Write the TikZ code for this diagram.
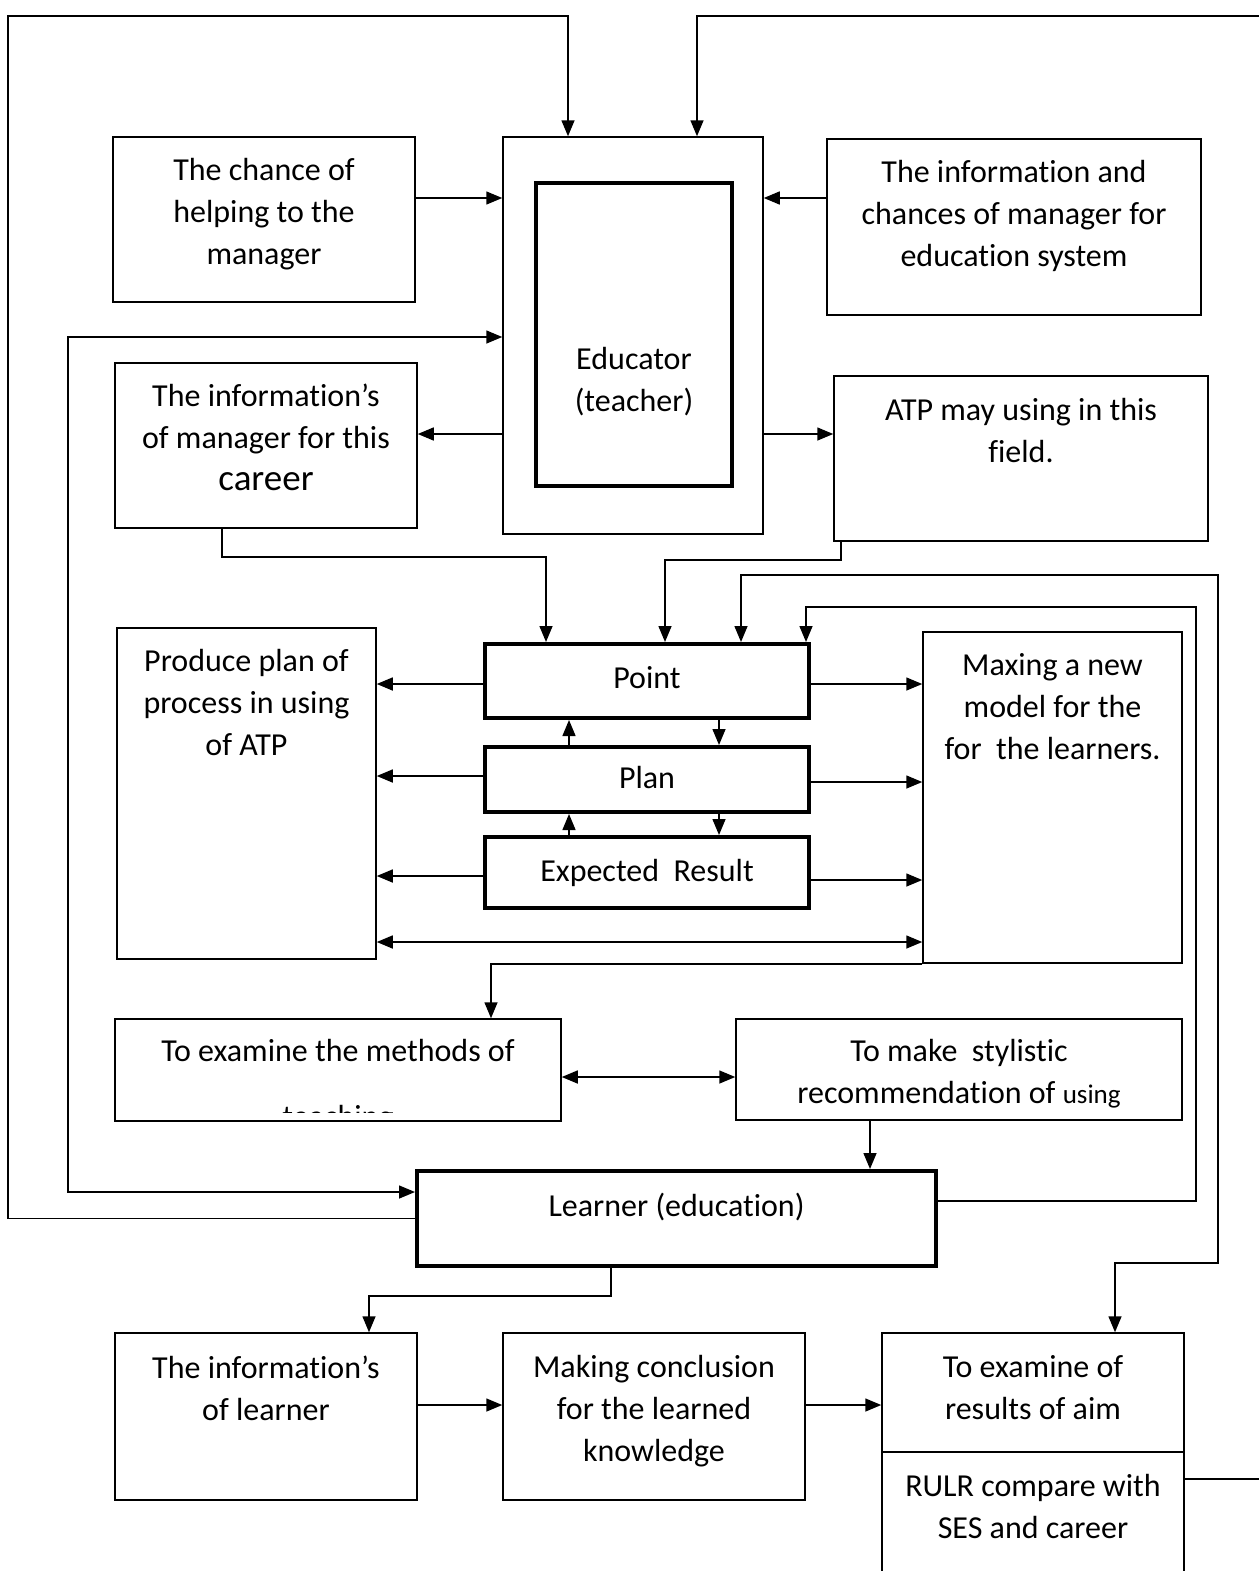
\documentclass[tikz,border=0pt]{standalone}
\usepackage{fontspec}
\setmainfont{Carlito}[RawFeature={-liga}]
\usetikzlibrary{arrows.meta}
\newcommand{\boxfont}{\fontsize{32}{42}\selectfont}
\tikzset{
    box/.style={draw, line width=1.5pt, inner sep=0pt},
    boldbox/.style={box, line width=4pt},
    lbl/.style={anchor=north, align=center, inner sep=0pt, font=\boxfont},
    arr/.style={line width=1.5pt, -{Triangle[length=16pt,width=13pt]}},
    arrboth/.style={line width=1.5pt, {Triangle[length=16pt,width=13pt]}-{Triangle[length=16pt,width=13pt]}},
}
\begin{document}
\begin{tikzpicture}[x=1pt,y=-1pt]
    \useasboundingbox (0,0) rectangle (1258,1571);
    % top row
    \node[box, minimum width=302pt, minimum height=165pt,
        label={[lbl, yshift=-22pt]north:{The chance of\\helping to the\\manager}}] (chance) at (264,219.5) {};
    \node[box, minimum width=260pt, minimum height=397pt] (edu) at (633,335.5) {};
    \node[boldbox, minimum width=196pt, minimum height=303pt,
        label={[lbl, anchor=center, yshift=-47pt]center:{Educator\\(teacher)}}] (eduin) at (634,334.5) {};
    \node[box, minimum width=374pt, minimum height=176pt,
        label={[lbl, yshift=-22pt]north:{The information and\\chances of manager for\\education system}}] (infoch) at (1014,227) {};
    \node[box, minimum width=302pt, minimum height=165pt,
        label={[lbl, yshift=-21pt]north:{The information’s\\of manager for this\\{\fontsize{37}{44}\selectfont career}}}] (career) at (266,445.5) {};
    \node[box, minimum width=374pt, minimum height=165pt,
        label={[lbl, yshift=-23pt]north:{ATP may using in this\\field.}}] (atp) at (1021,458.5) {};
    % middle block
    \node[box, minimum width=259pt, minimum height=331pt,
        label={[lbl, yshift=-22pt]north:{Produce plan of\\process in using\\of ATP}}] (produce) at (246.5,793.5) {};
    \node[boldbox, minimum width=324pt, minimum height=74pt,
        label={[lbl, yshift=-24pt]north:Point}] (point) at (647,681) {};
    \node[boldbox, minimum width=324pt, minimum height=65pt,
        label={[lbl, yshift=-21pt]north:Plan}] (plan) at (647,779.5) {};
    \node[boldbox, minimum width=324pt, minimum height=71pt,
        label={[lbl, yshift=-24pt]north:{Expected\ \ Result}}] (expected) at (647,872.5) {};
    \node[box, minimum width=259pt, minimum height=331pt,
        label={[lbl, yshift=-22pt]north:{Maxing a new\\model for the\\for\ \ the learners.}}] (maxing) at (1052.5,797.5) {};
    \node[box, minimum width=446pt, minimum height=102pt,
        label={[lbl, yshift=-21pt]north:{To examine the methods of}}] (methods) at (338,1070) {};
    \begin{scope}
        \clip (117,1021) rectangle (559,1112);
        \node[anchor=base, inner sep=0pt, font=\boxfont] (teach) at (338,1127) {teaching};
    \end{scope}
    \node[box, minimum width=446pt, minimum height=101pt,
        label={[lbl, yshift=-21pt]north:{To make\ \ stylistic\\recommendation of {\fontsize{27}{42}\selectfont using}}}] (stylistic) at (959,1069.5) {};
    \node[boldbox, minimum width=519pt, minimum height=95pt,
        label={[lbl, yshift=-24pt]north:{Learner (education)}}] (learner) at (676.5,1218.5) {};
    % bottom row
    \node[box, minimum width=302pt, minimum height=167pt,
        label={[lbl, yshift=-23pt]north:{The information’s\\of learner}}] (infol) at (266,1416.5) {};
    \node[box, minimum width=302pt, minimum height=167pt,
        label={[lbl, yshift=-23pt]north:{Making conclusion\\for the learned\\knowledge}}] (making) at (654,1416.5) {};
    \node[box, minimum width=302pt, minimum height=119pt,
        label={[lbl, yshift=-23pt]north:{To examine of\\results of aim}}] (aim) at (1033,1392.5) {};
    \node[box, minimum width=302pt, minimum height=148pt,
        label={[lbl, yshift=-23pt]north:{RULR compare with\\SES and career}}] (rulr) at (1033,1526) {};
    % connectors
    \draw[arr] (learner.west) -| (8,16) -| (edu.north -| 568,0);
    \draw[arr] (rulr.east |- 0,1479) -| (1275,16) -| (edu.north -| 697,0);
    \draw[arr] (chance.east |- 0,198) -- (edu.west |- 0,198);
    \draw[arr] (infoch.west |- 0,198) -- (edu.east |- 0,198);
    \draw[arrboth] (learner.west |- 0,1192) -| (68,337) -- (edu.west |- 0,337);
    \draw[arr] (edu.west |- 0,434) -- (career.east |- 0,434);
    \draw[arr] (edu.east |- 0,434) -- (atp.west |- 0,434);
    \draw[arr] (career.south -| 222,0) |- (546,557) -- (point.north -| 546,0);
    \draw[arr] (atp.south -| 841,0) |- (665,560) -- (point.north -| 665,0);
    \draw[arrboth] (point.north -| 741,0) |- (1218,575) |- (1115,1263) -- (aim.north -| 1115,0);
    \draw[arr] (learner.east |- 0,1201) -| (1196,607) -| (point.north -| 806,0);
    \draw[arr] (point.west |- 0,684) -- (produce.east |- 0,684);
    \draw[arr] (plan.west |- 0,776) -- (produce.east |- 0,776);
    \draw[arr] (expected.west |- 0,876) -- (produce.east |- 0,876);
    \draw[arr] (point.east |- 0,684) -- (maxing.west |- 0,684);
    \draw[arr] (plan.east |- 0,782) -- (maxing.west |- 0,782);
    \draw[arr] (expected.east |- 0,880) -- (maxing.west |- 0,880);
    \draw[arrboth] (produce.east |- 0,942) -- (maxing.west |- 0,942);
    \draw[arr] (plan.north -| 569,0) -- (point.south -| 569,0);
    \draw[arr] (point.south -| 719,0) -- (plan.north -| 719,0);
    \draw[arr] (expected.north -| 569,0) -- (plan.south -| 569,0);
    \draw[arr] (plan.south -| 719,0) -- (expected.north -| 719,0);
    \draw[arr] (maxing.south west) -| (methods.north -| 491,0);
    \draw[arrboth] (methods.east |- 0,1077) -- (stylistic.west |- 0,1077);
    \draw[arr] (stylistic.south -| 870,0) -- (learner.north -| 870,0);
    \draw[arr] (learner.south -| 611,0) |- (369,1296) -- (infol.north -| 369,0);
    \draw[arr] (infol.east |- 0,1405) -- (making.west |- 0,1405);
    \draw[arr] (making.east |- 0,1405) -- (aim.west |- 0,1405);
\end{tikzpicture}
\end{document}
